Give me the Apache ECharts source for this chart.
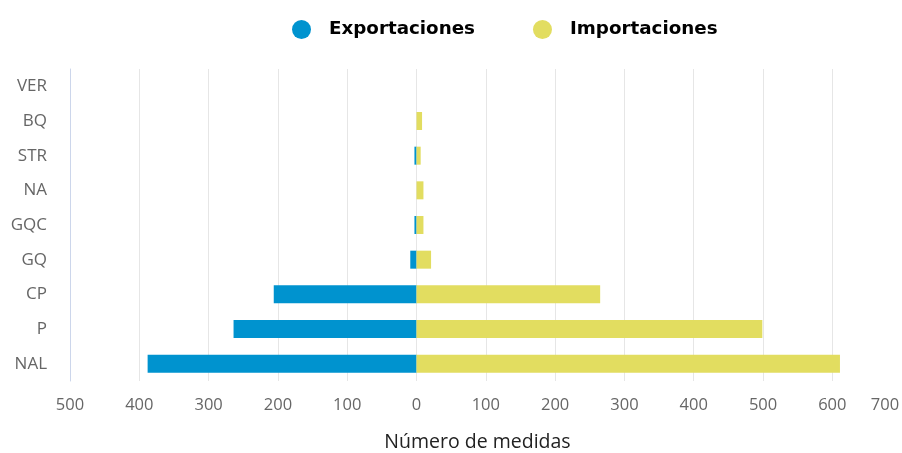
<!DOCTYPE html>
<html><head><meta charset="utf-8">
<script src="https://cdn.jsdelivr.net/npm/echarts@6/dist/echarts.min.js"></script>
<style>html,body{margin:0;padding:0;background:#fff}#c{width:902px;height:453px}</style>
</head><body><div id="c"></div>
<script>
const categories = ['NAL','P','CP','GQ','GQC','NA','STR','BQ','VER'];
const exportaciones = [388, 264, 206, 9, 3, 0, 3, 0, 0];
const importaciones = [611, 499, 265, 21, 10, 10, 6, 8, 0];
const seriesNames = ['Exportaciones','Importaciones'];
const axisTitle = 'Número de medidas';

const chart = echarts.init(document.getElementById('c'));
chart.setOption({
  animation: false,
  legend: {
    top: 15, left: 287,
    icon: 'circle', itemWidth: 19, itemHeight: 19, itemGap: 58,
    textStyle: {fontFamily: 'DejaVu Sans', fontWeight: 'bold', fontSize: 18.3, color: '#000', padding: [0,0,0,13]},
    data: seriesNames
  },
  grid: {left: 70, right: 17, top: 69, bottom: 72, containLabel: false, outerBoundsMode: 'none'},
  xAxis: {
    type: 'value', min: -500, max: 676, interval: 100,
    axisLine: {show: false}, axisTick: {show: false},
    splitLine: {show: true, showMaxLine: false, lineStyle: {color: '#e6e6e6', width: 1}},
    axisLabel: {
      showMaxLabel: true, margin: 16, color: '#666', fontFamily: 'Open Sans', fontSize: 16.5,
      formatter: v => String(Math.round(Math.abs(v) / 100) * 100)
    },
    name: axisTitle, nameLocation: 'middle', nameGap: 51,
    nameTextStyle: {fontFamily: 'Open Sans', fontSize: 19.5, color: '#222'}
  },
  yAxis: {
    type: 'category', data: categories,
    axisLine: {show: true, onZero: false, lineStyle: {color: '#ccd6eb', width: 1}},
    axisTick: {show: false},
    axisLabel: {margin: 23, color: '#666', fontFamily: 'Open Sans', fontSize: 17}
  },
  series: [
    {name: seriesNames[0], type: 'bar', stack: 'a', barWidth: 18,
     itemStyle: {color: '#0093cf'},
     data: exportaciones.map(v => -v)},
    {name: seriesNames[1], type: 'bar', stack: 'a', barWidth: 18,
     itemStyle: {color: '#e2dd60'},
     data: importaciones}
  ]
});
</script></body></html>
